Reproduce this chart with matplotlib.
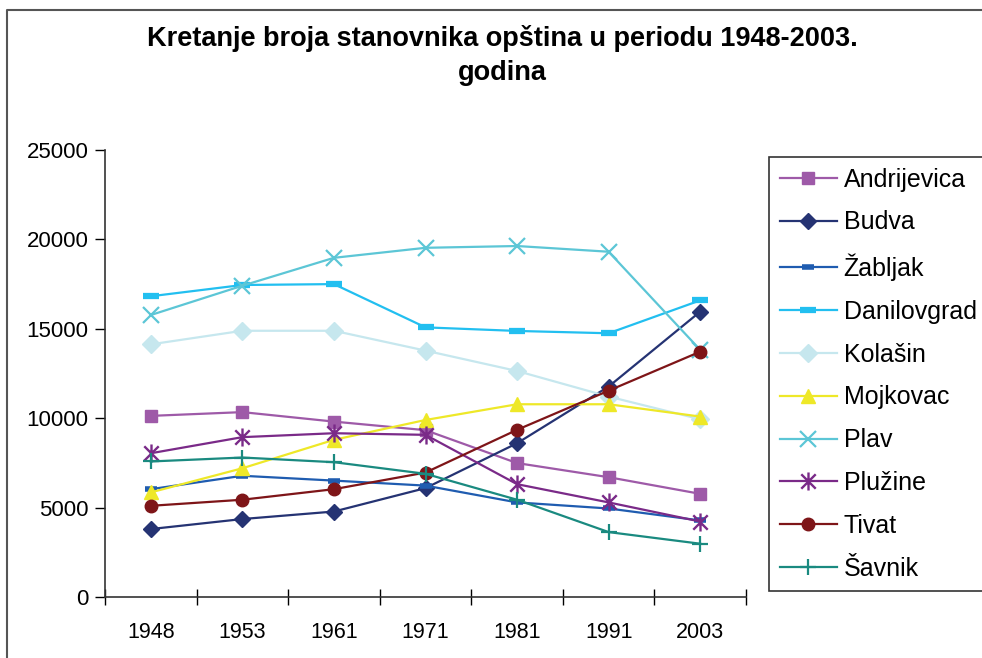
import matplotlib
matplotlib.use("Agg")
from matplotlib import pyplot as plt
from matplotlib.lines import Line2D
from matplotlib.path import Path

plt.rcParams['font.family'] = ['Liberation Sans', 'DejaVu Sans']

years = ['1948', '1953', '1961', '1971', '1981', '1991', '2003']

# broj stanovnika po opstinama (procijenjeno sa slike)
andrijevica = [10130, 10340, 9810, 9330, 7490, 6700, 5770]
budva = [3800, 4360, 4780, 6090, 8600, 11770, 15960]
zabljak = [6030, 6780, 6510, 6230, 5290, 4950, 4280]
danilovgrad = [16820, 17450, 17500, 15080, 14880, 14750, 16590]
kolasin = [14130, 14890, 14890, 13780, 12640, 11210, 9940]
mojkovac = [5850, 7200, 8790, 9900, 10780, 10780, 10090]
plav = [15770, 17410, 18970, 19530, 19630, 19310, 13820]
pluzine = [8040, 8940, 9160, 9070, 6310, 5290, 4220]
tivat = [5100, 5440, 6030, 6960, 9350, 11540, 13720]
savnik = [7580, 7800, 7540, 6890, 5440, 3630, 2980]

names = ['Andrijevica', 'Budva', 'Žabljak', 'Danilovgrad', 'Kolašin',
         'Mojkovac', 'Plav', 'Plužine', 'Tivat', 'Šavnik']
series = [andrijevica, budva, zabljak, danilovgrad, kolasin,
          mojkovac, plav, pluzine, tivat, savnik]
colors = ['#9E5AA8', '#253373', '#1F5CB0', '#22BFF0', '#C6E7EE',
          '#EEE828', '#5CC6D6', '#7A2A88', '#7E1518', '#1A8A80']

# zvjezdica kao u Excelu: x i uspravna crta
asterisk = Path([(-1, -1), (1, 1), (-1, 1), (1, -1), (0, -1.25), (0, 1.25)],
                [Path.MOVETO, Path.LINETO, Path.MOVETO, Path.LINETO,
                 Path.MOVETO, Path.LINETO])

markers = ['s', 'D', '_', '_', 'D', '^', 'x', asterisk, 'o', '+']
msizes = [9, 8, 9, 11, 9, 10, 11, 13, 9, 11]
mews = [1, 1, 4, 4.5, 1, 1, 1.6, 1.7, 1, 1.6]

fig = plt.figure(figsize=(9.82, 6.58), dpi=100)
ax = fig.add_axes([105/982, 1-597/658, 641/982, 447/658])

x = list(range(len(years)))
for i in range(len(names)):
    ax.plot(x, series[i], color=colors[i], marker=markers[i], ms=msizes[i],
            mew=mews[i], mec=colors[i], mfc=colors[i], lw=1.6, label=names[i],
            clip_on=False)

ax.set_xlim(-0.5, 6.5)
ax.set_ylim(0, 25000)
ax.set_yticks([0, 5000, 10000, 15000, 20000, 25000])
ax.set_xticks(x)
ax.set_xticklabels(years)
ax.set_xticks([i - 0.5 for i in range(8)], minor=True)
ax.tick_params(axis='x', which='major', length=0, pad=18, labelsize=15.5)
ax.tick_params(axis='x', which='minor', direction='inout', length=12, width=1)
ax.tick_params(axis='y', direction='out', length=7, width=1, pad=5, labelsize=16)
ax.spines['top'].set_visible(False)
ax.spines['right'].set_visible(False)
for s in ['left', 'bottom']:
    ax.spines[s].set_linewidth(1.2)
    ax.spines[s].set_color('#333333')

fig.text(502/982, 1-55.5/658, 'Kretanje broja stanovnika opština u periodu 1948-2003.\ngodina',
         ha='center', va='center', fontsize=19.5, fontweight='bold', linespacing=1.43)

leg = fig.legend(loc='upper left', bbox_to_anchor=(769/982, 1-157/658),
                 borderaxespad=0, fontsize=18, frameon=True, fancybox=False,
                 handlelength=2.28, handletextpad=0.28, labelspacing=0.755,
                 borderpad=0.42)
leg.get_frame().set_edgecolor('black')
leg.get_frame().set_linewidth(1.2)

# okvir oko grafikona
fig.add_artist(Line2D([7/982, 7/982, 1.0], [0, 1-10/658, 1-10/658],
                      transform=fig.transFigure, color='#555555', lw=1.5))

fig.savefig('out.png', dpi=100)
